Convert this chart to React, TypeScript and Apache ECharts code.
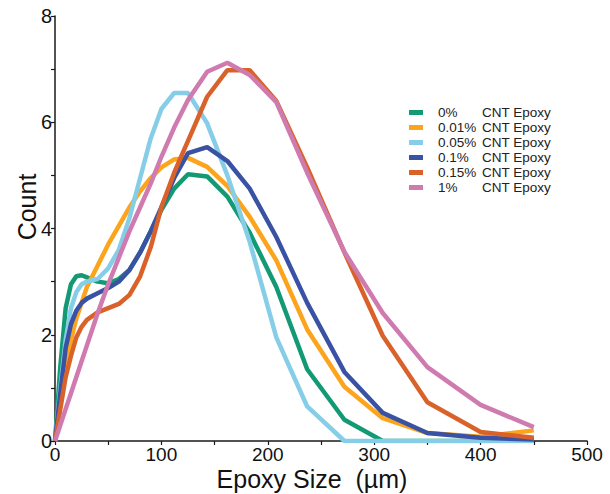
import React, { useEffect, useRef } from "react";
import * as echarts from "echarts";

const sizes = [0, 5, 10, 15, 20, 25, 30, 40, 50, 60, 70, 80, 90, 100, 112, 125, 143, 162, 183, 208, 237, 272, 308, 350, 400, 450];

const seriesNames = ["0%", "0.01%", "0.05%", "0.1%", "0.15%", "1%"];
const seriesColors = ["#139a74", "#fba41c", "#86cde8", "#3a52a4", "#d9622b", "#d07bb0"];

const cnt0 = [0, 1.4, 2.5, 2.95, 3.1, 3.12, 3.08, 3.0, 2.97, 3.05, 3.22, 3.55, 3.95, 4.35, 4.75, 5.02, 4.98, 4.6, 3.92, 2.9, 1.35, 0.4, 0, 0, 0, 0];
const cnt001 = [0, 0.7, 1.4, 1.9, 2.3, 2.6, 2.9, 3.3, 3.7, 4.05, 4.4, 4.7, 4.95, 5.15, 5.3, 5.33, 5.16, 4.8, 4.22, 3.4, 2.1, 1.02, 0.43, 0.15, 0.08, 0.2];
const cnt005 = [0, 1.0, 1.9, 2.5, 2.8, 2.95, 3.0, 3.05, 3.25, 3.6, 4.2, 4.95, 5.7, 6.25, 6.55, 6.55, 5.98, 5.0, 3.75, 1.95, 0.65, 0, 0, 0, 0, 0];
const cnt01 = [0, 0.9, 1.75, 2.2, 2.45, 2.6, 2.68, 2.78, 2.88, 3.0, 3.22, 3.55, 3.95, 4.4, 4.95, 5.42, 5.53, 5.27, 4.75, 3.84, 2.6, 1.3, 0.53, 0.15, 0.06, 0.03];
const cnt015 = [0, 0.6, 1.2, 1.6, 1.95, 2.15, 2.28, 2.42, 2.5, 2.58, 2.75, 3.1, 3.65, 4.4, 5.05, 5.65, 6.48, 6.98, 6.98, 6.4, 5.15, 3.55, 1.98, 0.73, 0.17, 0.06];
const cnt1 = [0, 0.3, 0.6, 0.9, 1.2, 1.5, 1.8, 2.4, 2.95, 3.45, 3.95, 4.4, 4.85, 5.35, 5.9, 6.42, 6.95, 7.12, 6.89, 6.38, 5.05, 3.56, 2.41, 1.39, 0.68, 0.26];

const allCounts = [cnt0, cnt001, cnt005, cnt01, cnt015, cnt1];

const xTitle = "Epoxy Size  (\u00b5m)";
const yTitle = "Count";
const legendSuffix = "CNT Epoxy";

const FONT = "'Liberation Sans', Arial, Helvetica, sans-serif";

export default function App() {
  const ref = useRef<HTMLDivElement>(null);

  useEffect(() => {
    if (!ref.current) return;
    const chart = echarts.init(ref.current, null, { renderer: "svg" });
    const axisColor = "#1a1a1a";
    chart.setOption({
      animation: false,
      backgroundColor: "#ffffff",
      grid: { left: 55, right: 23, top: 16, bottom: 53, containLabel: false },
      xAxis: {
        type: "value",
        min: 0,
        max: 500,
        interval: 50,
        axisLine: { show: true, lineStyle: { color: axisColor, width: 1.5 } },
        axisTick: { show: true, length: 4, inside: false, lineStyle: { color: axisColor, width: 1.2 } },
        splitLine: { show: false },
        axisLabel: {
          color: "#111",
          fontSize: 19,
          fontFamily: FONT,
          margin: 4,
          formatter: (v: number) => (v % 100 === 0 ? String(v) : ""),
        },
      },
      yAxis: {
        type: "value",
        min: 0,
        max: 8,
        interval: 1,
        axisLine: { show: true, onZero: false, lineStyle: { color: axisColor, width: 1.5 } },
        axisTick: { show: true, length: 4, inside: false, lineStyle: { color: axisColor, width: 1.2 } },
        splitLine: { show: false },
        axisLabel: {
          color: "#111",
          fontSize: 20,
          fontFamily: FONT,
          margin: 3,
          formatter: (v: number) => (v % 2 === 0 ? String(v) : ""),
        },
      },
      legend: {
        orient: "vertical",
        left: 404,
        top: 100,
        itemWidth: 14,
        itemHeight: 5,
        itemGap: 0,
        icon: "rect",
        data: seriesNames,
        formatter: (name: string) => `{a|${name}}{b|${legendSuffix}}`,
        textStyle: {
          fontFamily: FONT,
          fontSize: 13.5,
          color: "#222",
          lineHeight: 15,
          rich: {
            a: { fontFamily: FONT, fontSize: 13.5, color: "#222", width: 44, padding: [0, 0, 0, 10], lineHeight: 15 },
            b: { fontFamily: FONT, fontSize: 13.5, color: "#222", lineHeight: 15 },
          },
        },
      },
      graphic: [
        {
          type: "text",
          x: 312,
          y: 479,
          style: {
            text: xTitle,
            fontSize: 25,
            fontFamily: FONT,
            fill: "#111",
            align: "center",
            verticalAlign: "middle",
          },
        },
        {
          type: "text",
          x: 27,
          y: 207,
          rotation: Math.PI / 2,
          style: {
            text: yTitle,
            fontSize: 25,
            fontFamily: FONT,
            fill: "#111",
            align: "center",
            verticalAlign: "middle",
          },
        },
      ],
      series: seriesNames.map((name, i) => ({
        name,
        type: "line",
        showSymbol: false,
        symbol: "none",
        smooth: false,
        data: sizes.map((x, j) => [x, allCounts[i][j]]),
        lineStyle: { color: seriesColors[i], width: 4.5 },
        itemStyle: { color: seriesColors[i] },
        z: 2 + i,
      })),
    });
    return () => chart.dispose();
  }, []);

  return (
    <div
      ref={ref}
      style={{ position: "fixed", left: 0, top: 0, width: 610, height: 494, background: "#fff" }}
    />
  );
}
